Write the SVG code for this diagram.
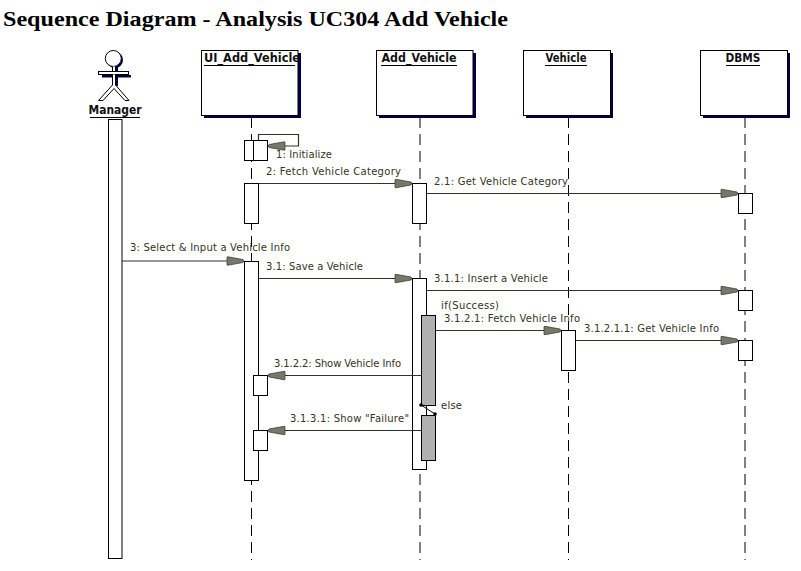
<svg xmlns="http://www.w3.org/2000/svg" width="801" height="571" viewBox="0 0 801 571">
<style>
text{font-family:"Liberation Sans",Arial,sans-serif}
.t{font-family:"Liberation Serif","Times New Roman",serif;font-weight:bold;font-size:22px;fill:#000}
.n{font-family:"DejaVu Sans",sans-serif;font-size:12px;font-weight:bold;fill:#111;text-anchor:middle}
.m{font-family:"DejaVu Sans",sans-serif;font-size:10px;fill:#333322}
.b{fill:#fff;stroke:#000;stroke-width:1}
.s{fill:#000044}
.u{stroke:#000;stroke-width:1}
.a{fill:#fff;stroke:#000;stroke-width:1}
.g{fill:#b0b0b0;stroke:#000;stroke-width:1}
.l{stroke:#000;stroke-width:1;stroke-dasharray:11 6;fill:none}
.r{stroke:#333322;stroke-width:1.2;fill:none;marker-end:url(#ah)}
</style>
<defs>
<marker id="ah" markerUnits="userSpaceOnUse" markerWidth="20" markerHeight="12" refX="18" refY="6" orient="auto">
<path d="M1 2 L2 1.800 L17 4.500 L18 6 L17 7.500 L2 10.200 L1 10 Z" fill="#77776c" stroke="#333322" stroke-width="0.7"/>
</marker>
</defs>
<rect width="801" height="571" fill="#fff"/>
<text class="t" x="3" y="26" textLength="505" lengthAdjust="spacingAndGlyphs">Sequence Diagram - Analysis UC304 Add Vehicle</text>

<g id="lifelines">
<line class="l" x1="251.5" y1="117" x2="251.5" y2="560"/>
<line class="l" x1="420" y1="117" x2="420" y2="560"/>
<line class="l" x1="568.5" y1="117" x2="568.5" y2="560"/>
<line class="l" x1="745" y1="117" x2="745" y2="560"/>
</g>

<g id="manager">
<circle cx="115" cy="60" r="8" class="s"/>
<rect class="s" x="102" y="75" width="29" height="2.500"/>
<rect class="s" x="115" y="67" width="3" height="19"/>
<circle cx="113.300" cy="58.500" r="8" fill="#fff" stroke="#000"/>
<rect x="98.500" y="71.500" width="30" height="3" fill="#fff" stroke="#000"/>
<path d="M112.500 66.500 V71.500 H115.500 V66.500 M112.500 74.500 V85 L98.500 100.500 L103 100.500 L114 88.500 L125 100.500 L129 100.500 L115.500 85 V74.500" fill="#fff" stroke="#000"/>
<text class="n" x="115" y="114" textLength="53" lengthAdjust="spacingAndGlyphs">Manager</text>
<line class="u" x1="90" y1="117.500" x2="140" y2="117.500"/>
<rect class="a" x="108.500" y="119.500" width="13.500" height="439"/>
</g>

<g id="ui_add_vehicle">
<rect class="s" x="204" y="53" width="97" height="65"/>
<rect class="b" x="201.500" y="50.500" width="96.500" height="65"/>
<text class="n" x="252" y="62" textLength="96" lengthAdjust="spacingAndGlyphs">UI_Add_Vehicle</text>
<line class="u" x1="204" y1="65.500" x2="295" y2="65.500"/>
<rect class="a" x="244.500" y="140.500" width="14" height="20"/>
<rect class="a" x="253.500" y="140.500" width="14" height="20"/>
<rect class="a" x="244.500" y="183.500" width="14" height="40"/>
<rect class="a" x="244.500" y="261.500" width="14" height="219"/>
<rect class="a" x="253.500" y="375.500" width="14" height="20"/>
<rect class="a" x="253.500" y="430.500" width="14" height="20"/>
</g>

<g id="add_vehicle">
<rect class="s" x="379" y="53" width="97" height="65"/>
<rect class="b" x="376.500" y="50.500" width="96.500" height="65"/>
<text class="n" x="419" y="62" textLength="75" lengthAdjust="spacingAndGlyphs">Add_Vehicle</text>
<line class="u" x1="381" y1="65.500" x2="457" y2="65.500"/>
<rect class="a" x="412.500" y="183.500" width="14" height="40"/>
<rect class="a" x="412.500" y="278.500" width="14" height="191"/>
<rect class="g" x="421.500" y="315.500" width="14" height="90"/>
<rect class="g" x="421.500" y="415.500" width="14" height="45"/>
<line x1="421" y1="405" x2="435" y2="414" stroke="#000"/>
<circle cx="421" cy="405" r="1.800"/>
<circle cx="435" cy="414" r="1.800"/>
</g>

<g id="vehicle">
<rect class="s" x="526" y="53" width="87" height="65"/>
<rect class="b" x="523.500" y="50.500" width="87" height="65"/>
<text class="n" x="566" y="62" textLength="41" lengthAdjust="spacingAndGlyphs">Vehicle</text>
<line class="u" x1="545" y1="65.500" x2="587" y2="65.500"/>
<rect class="a" x="561.500" y="330.500" width="14" height="40"/>
</g>

<g id="dbms">
<rect class="s" x="703" y="53" width="87" height="65"/>
<rect class="b" x="700.500" y="50.500" width="87" height="65"/>
<text class="n" x="743" y="62" textLength="35" lengthAdjust="spacingAndGlyphs">DBMS</text>
<line class="u" x1="726" y1="65.500" x2="760" y2="65.500"/>
<rect class="a" x="738.500" y="193.500" width="14" height="20"/>
<rect class="a" x="738.500" y="290.500" width="14" height="20"/>
<rect class="a" x="738.500" y="340.500" width="14" height="20"/>
</g>

<g id="connectors">
<path class="r" d="M258.500 140 V134.500 H298.500 V146 H268"/>
<line class="r" x1="259" y1="183.500" x2="412" y2="183.500"/>
<line class="r" x1="427" y1="193.500" x2="738" y2="193.500"/>
<line class="r" x1="122" y1="261" x2="244" y2="261"/>
<line class="r" x1="259" y1="278.500" x2="412" y2="278.500"/>
<line class="r" x1="427" y1="290.500" x2="738" y2="290.500"/>
<line class="r" x1="436" y1="330.500" x2="561" y2="330.500"/>
<line class="r" x1="576" y1="340.500" x2="738" y2="340.500"/>
<line class="r" x1="421" y1="375.500" x2="268" y2="375.500"/>
<line class="r" x1="421" y1="430.500" x2="268" y2="430.500"/>
</g>

<g id="labels">
<text class="m" x="276" y="158" textLength="56">1: Initialize</text>
<text class="m" x="266" y="175" textLength="135">2: Fetch Vehicle Category</text>
<text class="m" x="434" y="185" textLength="134">2.1: Get Vehicle Category</text>
<text class="m" x="130" y="251" textLength="160">3: Select &amp; Input a Vehicle Info</text>
<text class="m" x="266" y="270" textLength="97">3.1: Save a Vehicle</text>
<text class="m" x="434" y="282" textLength="114">3.1.1: Insert a Vehicle</text>
<text class="m" x="441" y="309" textLength="58">if(Success)</text>
<text class="m" x="444" y="322" textLength="136">3.1.2.1: Fetch Vehicle Info</text>
<text class="m" x="584" y="332" textLength="135">3.1.2.1.1: Get Vehicle Info</text>
<text class="m" x="274" y="367" textLength="127">3.1.2.2: Show Vehicle Info</text>
<text class="m" x="441" y="409" textLength="21">else</text>
<text class="m" x="290" y="422" textLength="119">3.1.3.1: Show "Failure"</text>
</g>
</svg>
